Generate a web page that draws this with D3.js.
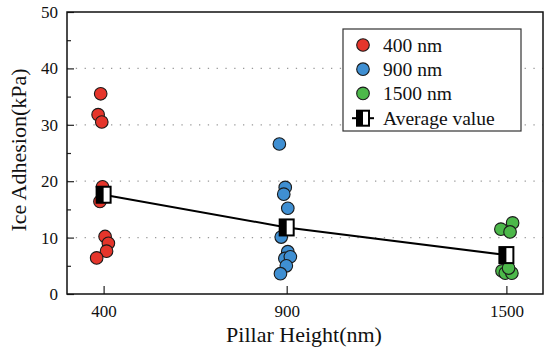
<!DOCTYPE html>
<html>
<head>
<meta charset="utf-8">
<script src="https://cdn.jsdelivr.net/npm/d3@7"></script>
<style>
  body { margin: 0; background: #fff; }
  text { font-family: "Liberation Serif", "Times New Roman", serif; }
</style>
</head>
<body>
<script>
// data
var heights = [400, 900, 1500];
var seriesNames = ["400 nm", "900 nm", "1500 nm"];
var seriesColors = ["#e5352b", "#3f8fd2", "#4cb84a"];

// scatter points: x position (jittered around the height), adhesion value
var red400X = [392, 385, 395, 397, 390, 404, 413, 408, 381];
var red400Y = [35.5, 31.8, 30.5, 19.0, 16.4, 10.2, 9.0, 7.6, 6.4];
var blue900X = [880, 896, 892, 903, 885, 903, 895, 910, 899, 883];
var blue900Y = [26.6, 18.9, 17.7, 15.2, 10.1, 7.5, 6.3, 6.6, 5.0, 3.6];
var green1500X = [1517, 1485, 1510, 1488, 1497, 1515, 1506];
var green1500Y = [12.6, 11.5, 11.0, 4.1, 3.7, 3.7, 4.6];

var averages = [17.6, 11.8, 6.9];

var yTicks = [0, 10, 20, 30, 40, 50];
var yGrid = [10, 20, 30, 40];
var yMinor = [5, 15, 25, 35, 45];

var width = 550;
var height = 348;
var margin = {left: 67, right: 7, top: 12, bottom: 54};

var svg = d3.select("body").append("svg")
  .attr("width", width)
  .attr("height", height);

var x = d3.scaleLinear()
  .domain([300, 1600])
  .range([margin.left, width - margin.right]);

var y = d3.scaleLinear()
  .domain([0, 50])
  .range([height - margin.bottom, margin.top]);

// dotted grid
svg.selectAll("line.grid")
  .data(yGrid)
  .enter().append("line")
  .attr("class", "grid")
  .attr("x1", margin.left)
  .attr("x2", width - margin.right)
  .attr("y1", function(d) { return y(d); })
  .attr("y2", function(d) { return y(d); })
  .style("stroke", "#999")
  .style("stroke-width", 1.3)
  .style("stroke-dasharray", "1.3,7.5");

// axes with inward ticks
var yAxis = d3.axisLeft(y).tickValues(yTicks).tickSize(-7).tickPadding(9);
svg.append("g")
  .attr("transform", "translate(" + margin.left + ",0)")
  .call(yAxis);

svg.append("g")
  .attr("transform", "translate(" + margin.left + ",0)")
  .call(d3.axisLeft(y).tickValues(yMinor).tickSize(-4).tickFormat(""))
  .select(".domain").remove();

var xAxis = d3.axisBottom(x).tickValues(heights).tickFormat(d3.format("d"))
  .tickSize(-8).tickPadding(11);
svg.append("g")
  .attr("transform", "translate(0," + (height - margin.bottom) + ")")
  .call(xAxis);

svg.selectAll(".domain").remove();
svg.selectAll(".tick line").style("stroke", "#222").style("stroke-width", 1.2);
svg.selectAll(".tick text")
  .style("font-size", "17px")
  .style("fill", "#111");

// frame
svg.append("rect")
  .attr("x", margin.left)
  .attr("y", margin.top)
  .attr("width", width - margin.left - margin.right)
  .attr("height", height - margin.top - margin.bottom)
  .style("fill", "none")
  .style("stroke", "#111")
  .style("stroke-width", 1.5);

// average line
svg.append("path")
  .datum(heights.map(function(h, i) { return [h, averages[i]]; }))
  .attr("d", d3.line()
    .x(function(d) { return x(d[0]); })
    .y(function(d) { return y(d[1]); }))
  .style("fill", "none")
  .style("stroke", "#000")
  .style("stroke-width", 2);

// scatter points
var groups = [
  {xs: red400X, ys: red400Y, color: seriesColors[0]},
  {xs: blue900X, ys: blue900Y, color: seriesColors[1]},
  {xs: green1500X, ys: green1500Y, color: seriesColors[2]}
];

groups.forEach(function(g) {
  svg.selectAll(null)
    .data(g.ys)
    .enter().append("circle")
    .attr("cx", function(d, i) { return x(g.xs[i]); })
    .attr("cy", function(d) { return y(d); })
    .attr("r", 6.3)
    .style("fill", g.color)
    .style("stroke", "#1a1a1a")
    .style("stroke-width", 1.1);
});

// average markers (half black, half white)
function avgMarker(sel, cx, cy, w, h) {
  sel.append("rect")
    .attr("x", cx - w / 2).attr("y", cy - h / 2)
    .attr("width", w).attr("height", h)
    .style("fill", "#fff").style("stroke", "#000").style("stroke-width", 2);
  sel.append("rect")
    .attr("x", cx - w / 2).attr("y", cy - h / 2)
    .attr("width", w / 2).attr("height", h)
    .style("fill", "#000");
}

heights.forEach(function(h, i) {
  avgMarker(svg.append("g"), x(h), y(averages[i]), 14, 16);
});

// legend
var legend = svg.append("g").attr("transform", "translate(343,29)");
legend.append("rect")
  .attr("width", 178)
  .attr("height", 102)
  .style("fill", "#fff")
  .style("stroke", "#333")
  .style("stroke-width", 1.2);

seriesNames.forEach(function(name, i) {
  var ry = 16 + i * 24.2;
  legend.append("circle")
    .attr("cx", 20).attr("cy", ry).attr("r", 6.3)
    .style("fill", seriesColors[i])
    .style("stroke", "#1a1a1a")
    .style("stroke-width", 1.1);
  legend.append("text")
    .attr("x", 40).attr("y", ry + 6.5)
    .text(name)
    .style("font-size", "19.5px")
    .style("fill", "#111");
});

var ly = 16 + 3 * 24.4;
legend.append("line")
  .attr("x1", 9).attr("x2", 31)
  .attr("y1", ly).attr("y2", ly)
  .style("stroke", "#000").style("stroke-width", 2);
avgMarker(legend.append("g"), 20, ly, 12, 15);
legend.append("text")
  .attr("x", 40).attr("y", ly + 6.5)
  .text("Average value")
  .style("font-size", "19.5px")
  .style("fill", "#111");

// axis titles
svg.append("text")
  .attr("x", 304)
  .attr("y", 342)
  .attr("text-anchor", "middle")
  .text("Pillar Height(nm)")
  .style("font-size", "22px")
  .style("fill", "#111");

svg.append("text")
  .attr("transform", "translate(26,150) rotate(-90)")
  .attr("text-anchor", "middle")
  .text("Ice Adhesion(kPa)")
  .style("font-size", "22px")
  .style("fill", "#111");
</script>
</body>
</html>
